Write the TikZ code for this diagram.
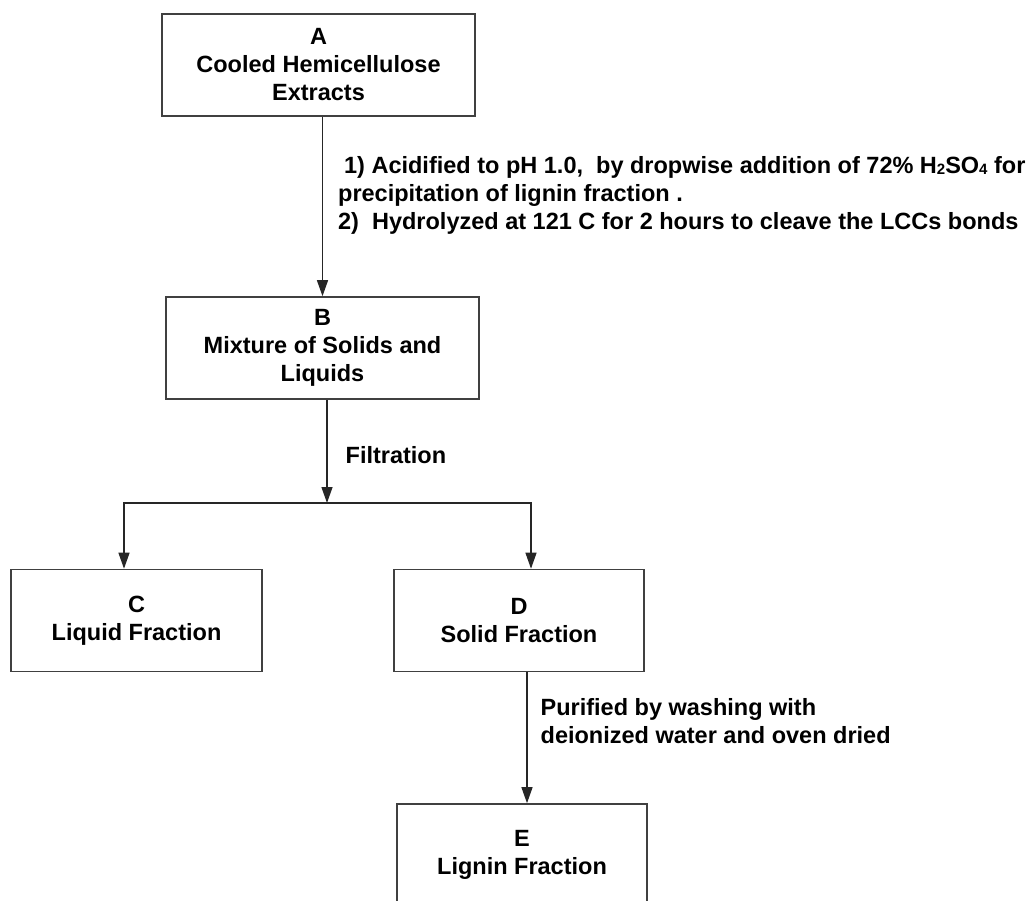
\documentclass[tikz,border=0pt]{standalone}
\usepackage{fontspec}
\setmainfont{Liberation Sans}
\usetikzlibrary{arrows.meta,positioning}

\begin{document}
\begin{tikzpicture}[x=1pt,y=-1pt,>={Triangle[length=16pt,width=11pt]},
box/.style={draw=black!75,line width=1.6pt,minimum height=102pt,align=center,inner sep=0pt,font=\fontsize{23.5}{28}\selectfont\bfseries},
flow/.style={->,line width=1.3pt,draw=black!85},
lab/.style={align=left,inner sep=0pt,font=\fontsize{23.5}{28}\selectfont\bfseries}]
\clip (0,0) rectangle (1036,901);
\node[box,minimum width=313pt] (a) at (318.5,65) {A\\Cooled Hemicellulose\\Extracts};
\node[box,minimum width=313pt] (b) at (322.5,348) {B\\Mixture of Solids and\\Liquids};
\node[box,minimum width=251pt] (c) at (136.5,620.5) {C\\Liquid Fraction};
\node[box,minimum width=250pt] (d) at (519,620.5) {D\\Solid Fraction};
\node[box,minimum width=250pt] (e) at (522,855) {E\\Lignin Fraction};
\coordinate (split) at (327,503);
\draw[flow] (a.south -| b.north) -- (b.north) node[lab,pos=.44,right=15pt] {\hspace*{6pt}1) Acidified to pH 1.0,\ \ by dropwise addition of 72\% H\raisebox{-1pt}{\fontsize{15}{15}\selectfont 2}SO\raisebox{-1pt}{\fontsize{15}{15}\selectfont 4} for\\precipitation of lignin fraction .\\2)\ \ Hydrolyzed at 121 C for 2 hours to cleave the LCCs bonds};
\draw[flow] (b.south -| split) -- (split) node[lab,pos=.54,right=18pt] {Filtration};
\draw[flow] (split) -| ([xshift=-12.5pt]c.north);
\draw[flow] (split) -| ([xshift=12pt]d.north);
\draw[flow] ([xshift=8pt]d.south) -- ([xshift=8pt]d.south |- e.north) node[lab,pos=.37,right=13pt] {Purified by washing with\\deionized water and oven dried};
\end{tikzpicture}
\end{document}
